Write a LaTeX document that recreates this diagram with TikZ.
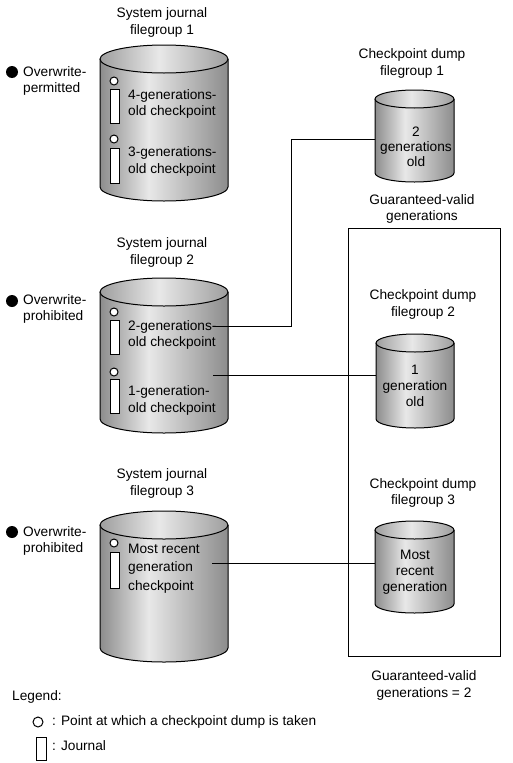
\documentclass[tikz,border=0pt]{standalone}
\usepackage{fontspec}
\setmainfont{Liberation Sans}
\definecolor{cdark}{gray}{0.55}
\definecolor{clight}{gray}{0.91}
\definecolor{tdark}{gray}{0.62}
\definecolor{tlight}{gray}{0.91}
\pgfdeclarehorizontalshading{cylbody}{100bp}{color(0bp)=(cdark); color(25bp)=(cdark); color(44bp)=(clight); color(75bp)=(cdark); color(100bp)=(cdark)}
\pgfdeclarehorizontalshading{cyltop}{100bp}{color(0bp)=(tdark); color(25bp)=(tdark); color(48bp)=(tlight); color(75bp)=(tdark); color(100bp)=(tdark)}
% #1 cx, #2 rx, #3 y top centre, #4 y bottom centre, #5 ry
\newcommand{\drawcyl}[5]{%
  \shade[shading=cylbody] ({#1-#2},{#3}) -- ({#1-#2},{#4}) arc[start angle=180,end angle=0,x radius=#2,y radius=#5] -- ({#1+#2},{#3}) -- cycle;
  \draw[outl] ({#1-#2},{#3}) -- ({#1-#2},{#4}) arc[start angle=180,end angle=0,x radius=#2,y radius=#5] -- ({#1+#2},{#3});
  \shadedraw[shading=cyltop,outl] ({#1},{#3}) ellipse[x radius=#2,y radius=#5];
}
\tikzset{
  outl/.style={line width=1pt,black},
  txt/.style={inner sep=0pt,font=\fontsize{13.7}{16.8}\selectfont,align=center},
  ltxt/.style={inner sep=0pt,font=\fontsize{13.7}{16.5}\selectfont,align=left,anchor=west},
  conn/.style={line width=1pt,black},
  pin/.style={inner sep=0pt,minimum width=79pt,minimum height=10pt,draw=none},
  jcirc/.style={line width=1pt,fill=white},
  jrect/.style={line width=1pt,fill=white},
}
\begin{document}
\begin{tikzpicture}[x=1pt,y=-1pt]
\useasboundingbox (0,0) rectangle (512,763);
\fill[white] (0,0) rectangle (512,763);

% cylinders
\drawcyl{164}{64}{59}{187}{14}
\drawcyl{164}{64}{292}{419}{14}
\drawcyl{164}{64}{525}{648}{14}
\drawcyl{414.5}{39.5}{99}{173}{9}
\drawcyl{415}{39}{343}{419}{9}
\drawcyl{414.5}{39.5}{530}{604}{9}

% titles
\node[txt] (sj1t) at (162,22.5) {System journal\\filegroup 1};
\node[txt] (sj2t) at (162,252.5) {System journal\\filegroup 2};
\node[txt] (sj3t) at (162,483.5) {System journal\\filegroup 3};
\node[txt] (cd1t) at (412,63.5) {Checkpoint dump\\filegroup 1};
\node[txt] (cd2t) at (423,304.5) {Checkpoint dump\\filegroup 2};
\node[txt] (cd3t) at (423,493) {Checkpoint dump\\filegroup 3};
\node[txt] (gv1) at (422,209) {Guaranteed-valid\\generations};
\node[txt] (gv2) at (424,685.5) {Guaranteed-valid\\generations = 2};

% overwrite labels
\fill (12,72) circle[radius=6];
\node[ltxt] (ow1) at (23,81) {Overwrite-\\permitted};
\fill (12,301) circle[radius=6];
\node[ltxt] (ow2) at (23,309) {Overwrite-\\prohibited};
\fill (12,532) circle[radius=6];
\node[ltxt] (ow3) at (23,541) {Overwrite-\\prohibited};

% journal marks SJ1
\draw[jcirc] (114,81) circle[radius=4];
\draw[jrect] (110,89) rectangle (119,123);
\node[ltxt] (j1a) at (128,104) {4-generations-\\old checkpoint};
\draw[jcirc] (114,139) circle[radius=4];
\draw[jrect] (110,148) rectangle (119,183);
\node[ltxt] (j1b) at (128,161.5) {3-generations-\\old checkpoint};

% journal marks SJ2
\draw[jcirc] (114,312) circle[radius=4];
\draw[jrect] (110,320) rectangle (119,354);
\node[ltxt] (j2a) at (128,335) {2-generations-\\old checkpoint};
\draw[jcirc] (114,372) circle[radius=4];
\draw[jrect] (110,379) rectangle (119,413);
\node[ltxt] (j2b) at (128,400.5) {1-generation-\\old checkpoint};

% journal marks SJ3
\draw[jcirc] (114,543) circle[radius=4];
\draw[jrect] (110,552) rectangle (119,588);
\node[ltxt,font=\fontsize{13.7}{18.5}\selectfont] (j3a) at (128,568.5) {Most recent\\generation\\checkpoint};

% dump contents
\node[txt,font=\fontsize{13.7}{15}\selectfont] (cd1c) at (416,147) {2\\generations\\old};
\node[txt,font=\fontsize{13.7}{16}\selectfont] (cd2c) at (415,386) {1\\generation\\old};
\node[txt,font=\fontsize{13.7}{16}\selectfont] (cd3c) at (415,572.5) {Most\\recent\\generation};

% connector anchors
\node[pin] (cd1) at (414.5,139) {};
\node[pin] (cd2) at (415.5,375) {};
\node[pin] (cd3) at (414.5,563) {};
\coordinate (s2a) at (213,326);
\coordinate (s2b) at (213,375);
\coordinate (s3) at (212,563);

% guaranteed box
\draw[conn] (348,228) rectangle (500,656);

% connectors
\draw[conn] (s2a) -- ++(78,0) |- (cd1.west);
\draw[conn] (s2b) -- (cd2.west);
\draw[conn] (s3) -- (cd3.west);

% legend
\node[ltxt] (leg) at (12,697) {Legend:};
\draw[line width=1pt] (38,722) circle[radius=5];
\node[ltxt] (leg1) at (52,722) {: Point at which a checkpoint dump is taken};
\draw[line width=1pt] (36,737) rectangle (46,760);
\node[ltxt] (leg2) at (52,746) {: Journal};
\end{tikzpicture}
\end{document}
